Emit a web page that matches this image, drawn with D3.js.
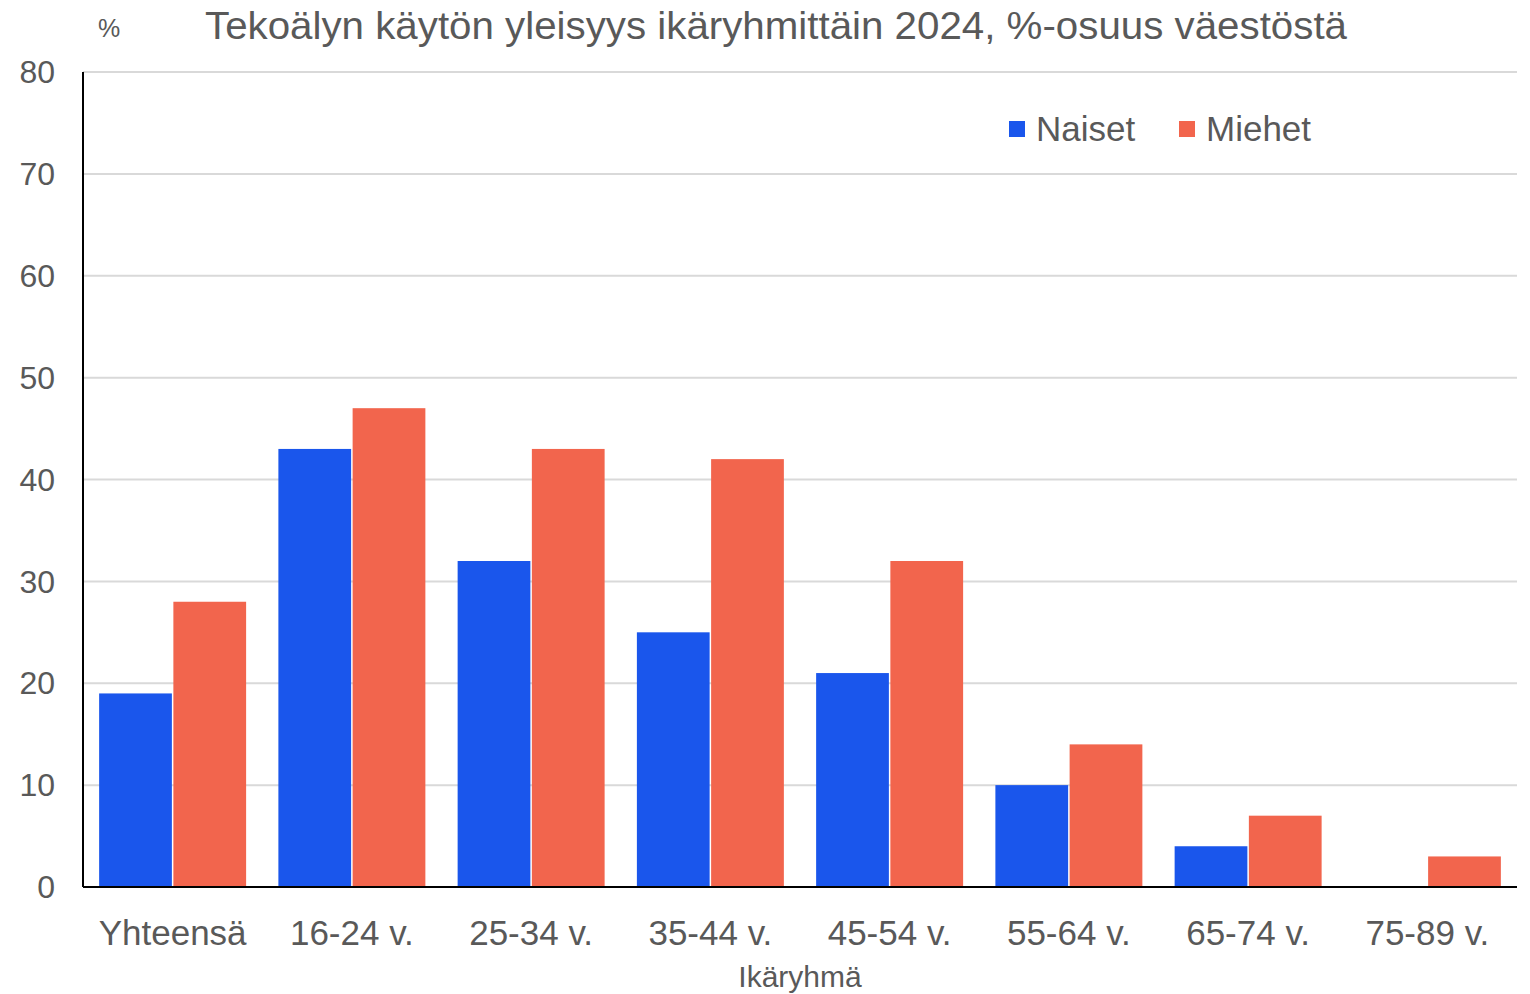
<!DOCTYPE html>
<html>
<head>
<meta charset="utf-8">
<script src="https://cdn.jsdelivr.net/npm/d3@7"></script>
<style>
  body { margin: 0; background: #fff; }
  text { font-family: "Liberation Sans", Arial, sans-serif; fill: #595959; }
</style>
</head>
<body>
<div class="chart"></div>
<script>
const categories = ["Yhteensä", "16-24 v.", "25-34 v.", "35-44 v.", "45-54 v.", "55-64 v.", "65-74 v.", "75-89 v."];
const naiset = [19, 43, 32, 25, 21, 10, 4, null];
const miehet = [28, 47, 43, 42, 32, 14, 7, 3];
const seriesNames = ["Naiset", "Miehet"];
const seriesColors = ["#1a56ec", "#f2654d"];
const yTicks = [0, 10, 20, 30, 40, 50, 60, 70, 80];

const width = 1530, height = 994;
const margin = {top: 72, right: 13, bottom: 107, left: 83};

const svg = d3.select(".chart").append("svg")
    .attr("width", width)
    .attr("height", height);

const x = d3.scaleBand()
    .domain(categories)
    .range([margin.left, width - margin.right])
    .paddingInner(0.18)
    .paddingOuter(0.09);

const xs = d3.scaleBand()
    .domain(seriesNames)
    .range([0, x.bandwidth()])
    .paddingInner(0.02);

const y = d3.scaleLinear()
    .domain([0, 80])
    .range([height - margin.bottom, margin.top]);

// grid
svg.append("g")
    .selectAll("line")
    .data(yTicks.filter(d => d > 0))
    .enter()
    .append("line")
    .attr("x1", margin.left)
    .attr("x2", width - margin.right)
    .attr("y1", d => y(d))
    .attr("y2", d => y(d))
    .attr("stroke", "#d9d9d9")
    .attr("stroke-width", 2);

// y labels
svg.append("g")
    .selectAll("text")
    .data(yTicks)
    .enter()
    .append("text")
    .attr("x", 55)
    .attr("y", d => y(d))
    .attr("dy", "0.35em")
    .style("text-anchor", "end")
    .style("font-size", "32px")
    .text(d => d);

const rows = categories.map((c, i) => ({cat: c, values: [naiset[i], miehet[i]]}));

const groups = svg.append("g")
    .selectAll("g")
    .data(rows)
    .enter()
    .append("g")
    .attr("transform", d => `translate(${x(d.cat)},0)`);

groups.selectAll("rect")
    .data(d => d.values.map((v, j) => ({name: seriesNames[j], value: v, color: seriesColors[j]})))
    .enter()
    .filter(d => d.value != null)
    .append("rect")
    .attr("x", d => xs(d.name))
    .attr("width", xs.bandwidth())
    .attr("y", d => y(d.value))
    .attr("height", d => y(0) - y(d.value))
    .attr("fill", d => d.color);

// axes lines
svg.append("line")
    .attr("x1", margin.left).attr("x2", margin.left)
    .attr("y1", margin.top).attr("y2", y(0))
    .attr("stroke", "#000").attr("stroke-width", 2);
svg.append("line")
    .attr("x1", margin.left).attr("x2", width - margin.right)
    .attr("y1", y(0)).attr("y2", y(0))
    .attr("stroke", "#000").attr("stroke-width", 2);

// x labels
svg.append("g")
    .selectAll("text")
    .data(categories)
    .enter()
    .append("text")
    .attr("x", d => x(d) + x.bandwidth() / 2)
    .attr("y", 945)
    .style("text-anchor", "middle")
    .style("font-size", "35px")
    .text(d => d);

svg.append("text")
    .attr("x", 800)
    .attr("y", 987)
    .style("text-anchor", "middle")
    .style("font-size", "30px")
    .text("Ikäryhmä");

// title
svg.append("text")
    .attr("x", 98)
    .attr("y", 37)
    .style("font-size", "25px")
    .text("%");
svg.append("text")
    .attr("x", 205)
    .attr("y", 39)
    .attr("textLength", 1142)
    .attr("lengthAdjust", "spacingAndGlyphs")
    .style("font-size", "39px")
    .text("Tekoälyn käytön yleisyys ikäryhmittäin 2024, %-osuus väestöstä");

// legend
const legendX = [1009, 1179];
const legend = svg.append("g")
    .selectAll("g")
    .data(seriesNames)
    .enter()
    .append("g")
    .attr("transform", (d, i) => `translate(${legendX[i]},121)`);
legend.append("rect")
    .attr("width", 16).attr("height", 16)
    .attr("fill", (d, i) => seriesColors[i]);
legend.append("text")
    .attr("x", 27).attr("y", 8)
    .attr("dy", "0.35em")
    .style("font-size", "35px")
    .text(d => d);
</script>
</body>
</html>
